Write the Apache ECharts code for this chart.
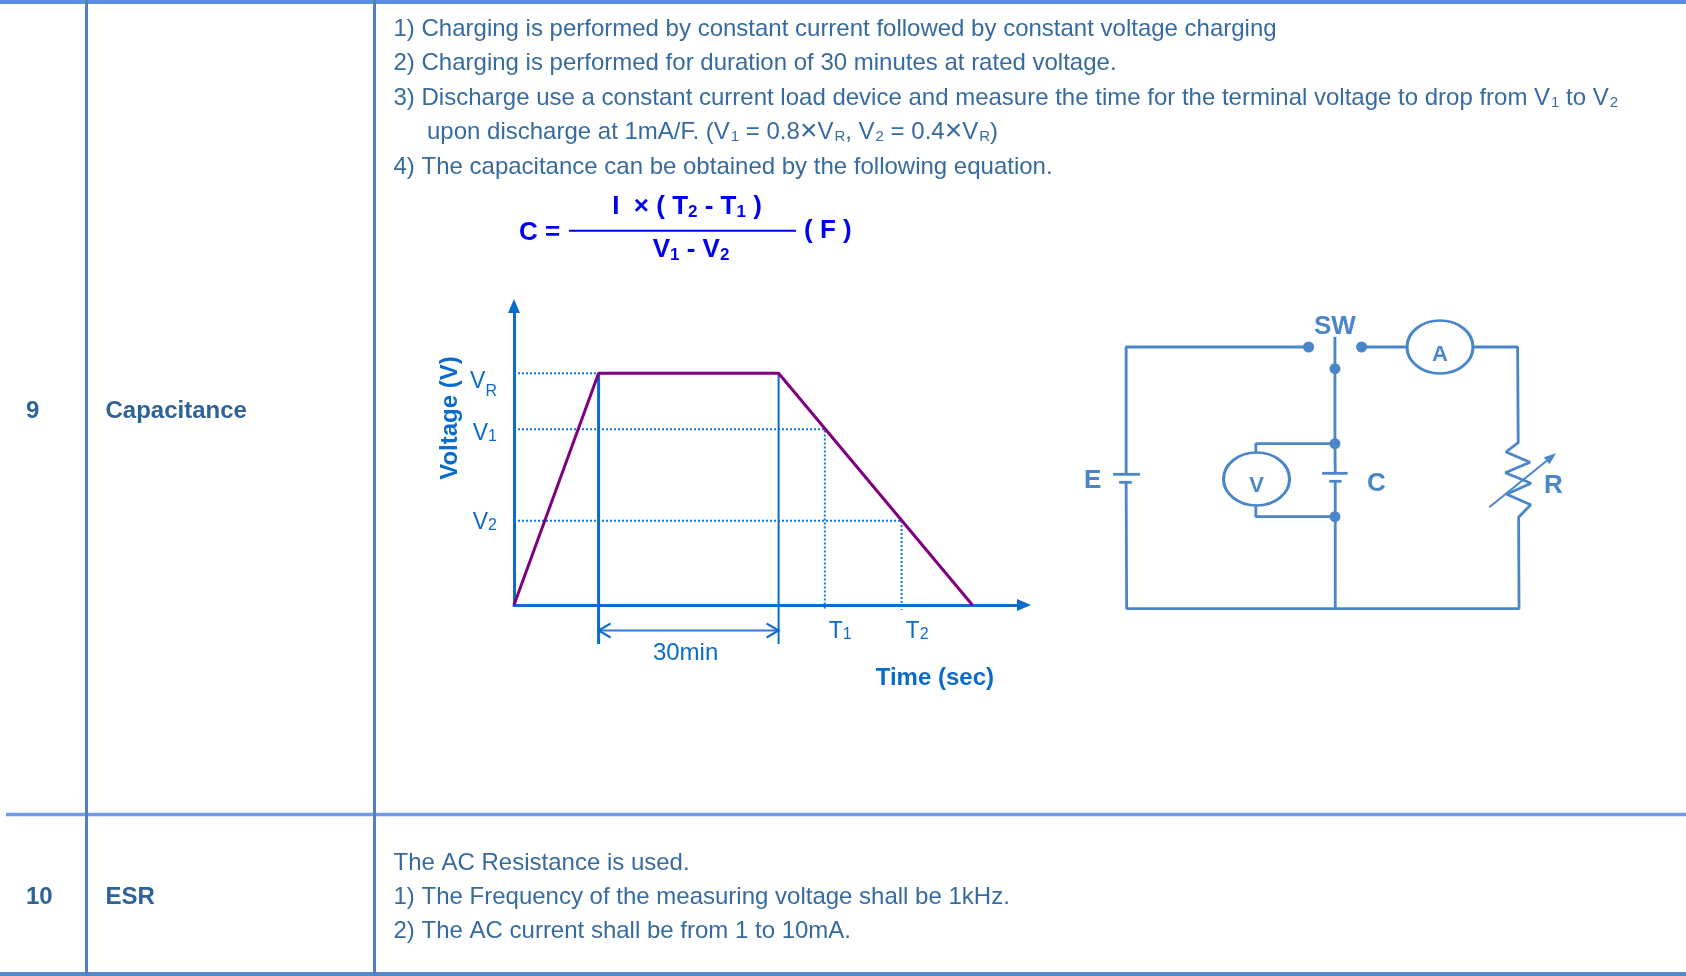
<!DOCTYPE html>
<html><head><meta charset="utf-8">
<style>html,body{margin:0;padding:0;background:#fff}#c{width:1686px;height:976px}</style>
<script src="https://cdn.jsdelivr.net/npm/echarts@6/dist/echarts.min.js"></script>
</head><body><div id="c"></div>
<script>
// ---- table text ----
const rowNumbers = ['9', '10'];
const rowNames = ['Capacitance', 'ESR'];
const procedureLines = [
  '1) Charging is performed by constant current followed by constant voltage charging',
  '2) Charging is performed for duration of 30 minutes at rated voltage.',
  '3) Discharge use a constant current load device and measure the time for the terminal voltage to drop from V{s|1} to V{s|2}',
  'upon discharge at 1mA/F. (V{s|1} = 0.8{x|×}V{s|R}, V{s|2} = 0.4{x|×}V{s|R})',
  '4) The capacitance can be obtained by the following equation.'
];
const esrLines = [
  'The AC Resistance is used.',
  '1) The Frequency of the measuring voltage shall be 1kHz.',
  '2) The AC current shall be from 1 to 10mA.'
];
// ---- voltage / time plot values (minutes, fraction of rated voltage) ----
const tCharged = 14.1, tPlateauEnd = 44.1, tEnd = 76.4, t1 = 51.8, t2 = 64.6;
const vR = 1, v1 = 0.758, v2 = 0.364;
const profileT = [0, tCharged, tPlateauEnd, tEnd];
const profileV = [0, vR, vR, 0];
const yTickValues = [vR, v1, v2];
const yTickLabels = ['{vr|V}{r|R}', '{v1|V}{n|1}', '{v2|V}{n|2}'];
const xTickValues = [t1, t2];
const xTickLabels = ['{v|T}{n|1}', '{v|T}{n|2}'];
const guideTick = -0.022, markerDrop = -0.168, dimLevel = -0.11;
// ---- circuit (schematic units) ----
const wires = [
  [[207.5,27],[26,27],[26,154.3]],
  [[26,162.3],[26.5,288.7],[416.8,288.7],[416.4,197.3],[428.4,184.7],[404.5,174.3],[428.7,163.3],[403.2,152.7],[427.7,142.3],[403.8,132],[416,122.7],[415.4,27],[371,27]],
  [[305,27],[260.2,27]],
  [[233.7,16.7],[233.7,123.7],[234,153.3]],
  [[234,161.3],[234,288.7]],
  [[155,132.3],[155,123.7],[233.7,123.7]],
  [[155,185.7],[155,196.7],[234,196.7]],
  [[13,154.3],[39.7,154.3]],
  [[19,162.3],[31.7,162.3]],
  [[221,153.3],[246.3,153.3]],
  [[228,161.3],[240.3,161.3]],
  [[387.2,187.3],[449,137]]
];
const dots = [[207.5,27],[260.2,27],[233.7,48.7],[233.7,123.7],[233.7,196.7]];
const meters = [[338.2,27],[155.7,159]];
const arrowTip = [[449,137]];
const circuitLabels = [['SW',233.7,7,26],['A',338.2,35,22],['V',155.7,166,22],['E',-7.4,161.3,26],['C',275,164,26],['R',451,166,26]];

// ---- styles ----
const FONT = '"Liberation Sans", Arial, sans-serif';
const TXT = '#376B9F', AX = '#0A6BCC', PUR = '#800080', CIR = '#4A86C8', FORM = '#0000F0';
const chart = echarts.init(document.getElementById('c'), null, {renderer: 'canvas'});

const subRich = {
  s: {fontSize: 15, fontFamily: FONT, fill: TXT, padding: [9, 0, 0, 1], verticalAlign: 'bottom'},
  x: {fontSize: 30, fontFamily: FONT, fill: TXT, lineHeight: 24}
};
function txt(text, x, y, size, color, weight, extra) {
  return {type: 'text', z: 10, style: Object.assign({
    text, x, y, fill: color, fontSize: size, fontFamily: FONT, fontWeight: weight || 'normal',
    verticalAlign: 'middle', align: 'left'
  }, extra || {})};
}
function rule(x1, y1, x2, y2, w, c) {
  return {type: 'line', z: 5, shape: {x1, y1, x2, y2}, style: {stroke: c, lineWidth: w}};
}
const procY = [29.5, 63.5, 98.5, 132, 167.5];
const esrY = [863, 897, 931.5];
const graphics = [
  rule(0, 2, 1686, 2, 4, '#5B8FE3'),
  rule(6, 814.5, 1686, 814.5, 3.5, '#6F9BEA'),
  rule(0, 974, 1686, 974, 4, '#5488C6'),
  rule(86.5, 0, 86.5, 976, 3, '#4F81BD'),
  rule(374.5, 0, 374.5, 976, 3, '#4F81BD'),
  txt(rowNumbers[0], 26, 411, 24, '#2F6398', 'bold'),
  txt(rowNames[0], 105.5, 411, 24, '#2F6398', 'bold'),
  txt(rowNumbers[1], 26, 897, 24, '#2F6398', 'bold'),
  txt(rowNames[1], 105.5, 897, 24, '#2F6398', 'bold')
];
procedureLines.forEach((l, i) => graphics.push(txt(l, i === 3 ? 427 : 393.5, procY[i], 24, TXT, 'normal', {rich: subRich})));
esrLines.forEach((l, i) => graphics.push(txt(l, 393.5, esrY[i], 24, TXT)));
const fSub = {s: {fontSize: 17, fontWeight: 'bold', fontFamily: FONT, fill: FORM, padding: [10, 0, 0, 0], verticalAlign: 'bottom'}};
graphics.push(
  txt('C =', 519, 233, 26, FORM, 'bold'),
  txt('I  × ( T{s|2} - T{s|1} )', 687, 207, 26, FORM, 'bold', {align: 'center', rich: fSub}),
  txt('V{s|1} - V{s|2}', 691, 250, 26, FORM, 'bold', {align: 'center', rich: fSub}),
  txt('( F )', 804, 231, 26, FORM, 'bold'),
  rule(569, 230.7, 796, 230.7, 2, FORM)
);

const tickRich = {
  v: {fontSize: 23, fontFamily: FONT, color: AX},
  vr: {fontSize: 23, fontFamily: FONT, color: AX, padding: [23, 0, 6, 0], verticalAlign: 'bottom'},
  v1: {fontSize: 23, fontFamily: FONT, color: AX, padding: [8, 0, 0, 0], verticalAlign: 'bottom'},
  v2: {fontSize: 23, fontFamily: FONT, color: AX, padding: [3, 0, 0, 0], verticalAlign: 'bottom'},
  n: {fontSize: 16, fontFamily: FONT, color: AX, padding: [6, 0, 0, 0], verticalAlign: 'bottom'},
  r: {fontSize: 16, fontFamily: FONT, color: AX, verticalAlign: 'bottom'}
};
const baseLine = {type: 'line', xAxisIndex: 0, yAxisIndex: 0, clip: false, silent: true, symbol: 'none', animation: false};
function guide(a) {
  return Object.assign({}, baseLine, {data: a, z: 2, lineStyle: {color: '#0A78DC', width: 2, type: [2, 2]}});
}
const series = [
  guide([[0, vR], [tCharged, vR]]),
  guide([[0, v1], [t1, v1], [t1, guideTick]]),
  guide([[0, v2], [t2, v2], [t2, guideTick]]),
  Object.assign({}, baseLine, {data: [[tCharged, vR], [tCharged, markerDrop]], z: 3, lineStyle: {color: AX, width: 3}}),
  Object.assign({}, baseLine, {data: [[tPlateauEnd, vR], [tPlateauEnd, markerDrop]], z: 3, lineStyle: {color: AX, width: 2}}),
  Object.assign({}, baseLine, {
    z: 3, showSymbol: true, showAllSymbol: true, symbolSize: [12, 14],
    itemStyle: {color: 'rgba(0,0,0,0)', borderColor: AX, borderWidth: 2, opacity: 1},
    lineStyle: {color: '#2A7FD4', width: 2},
    data: [
      {value: [tCharged, dimLevel], symbol: 'path://M10 0L0 5L10 10', symbolOffset: [6, 0]},
      {value: [tPlateauEnd, dimLevel], symbol: 'path://M0 0L10 5L0 10', symbolOffset: [-6, 0]}
    ]
  }),
  Object.assign({}, baseLine, {
    z: 4, lineStyle: {color: PUR, width: 3},
    data: profileT.map((t, i) => [t, profileV[i]])
  }),
  {type: 'scatter', xAxisIndex: 0, yAxisIndex: 0, silent: true, clip: false, symbolSize: 0, animation: false,
   itemStyle: {opacity: 1},
   data: [[(tCharged + tPlateauEnd) / 2, -0.2]],
   label: {show: true, position: 'inside', offset: [-3, 2], formatter: '30min', fontSize: 24, fontFamily: FONT, color: AX}}
];
wires.forEach((w, i) => series.push({
  type: 'line', xAxisIndex: 1, yAxisIndex: 1, data: w, symbol: 'none', silent: true, clip: false, animation: false,
  z: 3, lineStyle: {color: CIR, width: i === wires.length - 1 ? 2 : 2.8}
}));
const solid = {color: CIR, opacity: 1};
series.push(
  {type: 'scatter', xAxisIndex: 1, yAxisIndex: 1, data: dots, symbolSize: 11, silent: true, clip: false, animation: false, z: 4, itemStyle: solid},
  {type: 'scatter', xAxisIndex: 1, yAxisIndex: 1, data: meters, symbol: 'circle', symbolSize: [66, 53], silent: true, clip: false, animation: false, z: 4,
   itemStyle: {color: '#fff', borderColor: CIR, borderWidth: 2.8, opacity: 1}},
  {type: 'scatter', xAxisIndex: 1, yAxisIndex: 1, data: arrowTip, symbol: 'triangle', symbolSize: [9, 12], symbolRotate: -51, silent: true, clip: false, animation: false, z: 4, itemStyle: solid},
  {type: 'scatter', xAxisIndex: 1, yAxisIndex: 1, silent: true, clip: false, animation: false, z: 6, symbolSize: 0, itemStyle: {opacity: 1},
   data: circuitLabels.map(l => ({value: [l[1], l[2]], label: {show: true, position: 'inside', formatter: l[0], fontSize: l[3], fontWeight: 'bold', fontFamily: FONT, color: CIR}}))}
);

chart.setOption({
  backgroundColor: '#fff',
  animation: false,
  tooltip: {show: false},
  graphic: graphics,
  grid: [
    {left: 514, top: 306, width: 510, height: 299},
    {left: 1100, top: 320, width: 472.5, height: 300}
  ],
  xAxis: [
    {type: 'value', gridIndex: 0, min: 0, max: 85, splitLine: {show: false}, axisTick: {show: false},
     axisLine: {onZero: false, lineStyle: {color: AX, width: 3}, symbol: ['none', 'triangle'], symbolSize: [12, 14]},
     axisLabel: {customValues: xTickValues, margin: 15, align: 'left', padding: [0, 0, 0, 4],
       formatter: v => xTickLabels[xTickValues.indexOf(v)], rich: tickRich},
     name: 'Time (sec)', nameLocation: 'end', nameGap: -30,
     nameTextStyle: {align: 'right', verticalAlign: 'top', padding: [61, 0, 0, 0], fontSize: 24, fontWeight: 'bold', fontFamily: FONT, color: AX}},
    {type: 'value', gridIndex: 1, min: 0, max: 470, show: false}
  ],
  yAxis: [
    {type: 'value', gridIndex: 0, min: 0, max: 1.2904, splitLine: {show: false}, axisTick: {show: false},
     axisLine: {show: true, onZero: false, lineStyle: {color: AX, width: 3}, symbol: ['none', 'triangle'], symbolSize: [12, 14]},
     axisLabel: {customValues: yTickValues, margin: 17, formatter: v => yTickLabels[yTickValues.indexOf(v)], rich: tickRich},
     name: 'Voltage (V)', nameLocation: 'middle', nameGap: 52, nameRotate: 90,
     nameTextStyle: {fontSize: 24, fontWeight: 'bold', fontFamily: FONT, color: AX, padding: [0, 0, 0, 75]}},
    {type: 'value', gridIndex: 1, min: 0, max: 300, inverse: true, show: false}
  ],
  series
});
</script></body></html>
